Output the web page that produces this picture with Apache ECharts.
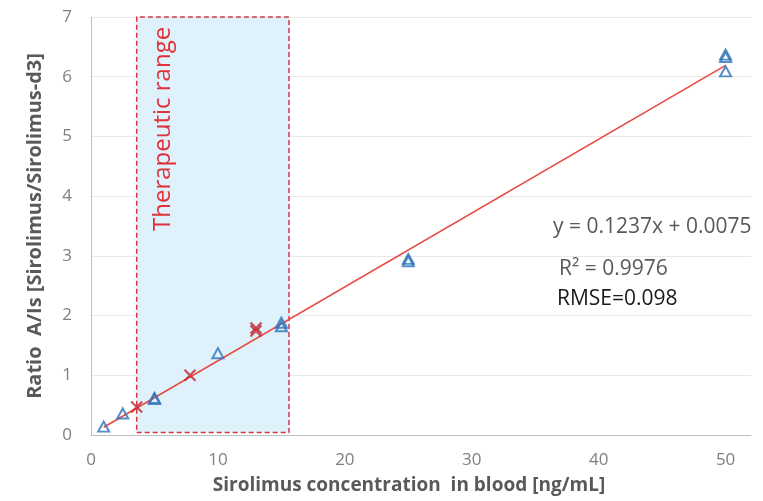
<!DOCTYPE html>
<html lang="en">
  <head>
    <meta charset="UTF-8" />
    <title>Sirolimus calibration</title>
    <script src="https://cdn.jsdelivr.net/npm/echarts@6/dist/echarts.min.js"></script>
    <style>
      html, body { margin: 0; padding: 0; background: #fff; }
    </style>
  </head>

  <body>
    <div id="main" style="width: 763px; height: 501px"></div>

    <script>
      // calibrators (blue triangles): [concentration, ratio]
      var calibrators = [
        [1, 0.14], [2.5, 0.36], [5, 0.6], [5, 0.62],
        [10, 1.37], [15, 1.82], [15, 1.88],
        [25, 2.91], [25, 2.95], [50, 6.09], [50, 6.33], [50, 6.37]
      ];
      // QC samples (red crosses)
      var qcSamples = [
        [3.6, 0.47], [7.8, 1.0], [13.0, 1.74], [13.0, 1.79]
      ];
      // linear fit endpoints
      var trendline = [[1, 0.13], [50, 6.19]];
      // therapeutic range box
      var therapeuticX = [3.6, 15.6];
      var therapeuticY = [0.04, 7.04];
      var xTicks = [0, 10, 20, 30, 40, 50];

      var fontFam = "'Open Sans', 'Noto Sans', sans-serif";
      var myChart = echarts.init(document.getElementById("main"));

      var option = {
        animation: false,
        textStyle: { fontFamily: fontFam },
        grid: { left: 91, right: 12, top: 17, bottom: 66 },
        xAxis: {
          type: "value",
          min: 0,
          max: 52,
          interval: 10,
          name: "Sirolimus concentration  in blood [ng/mL]",
          nameLocation: "middle",
          nameGap: 41,
          nameTextStyle: {
            fontSize: 19, fontWeight: "bold", color: "#595959", fontFamily: fontFam,
            padding: [0, 24, 0, 0]
          },
          axisLine: { lineStyle: { color: "#bfbfbf" } },
          axisTick: { show: false },
          splitLine: { show: false },
          axisLabel: {
            fontSize: 17, color: "#7f7f7f", margin: 17,
            formatter: function (v) { return xTicks.indexOf(v) >= 0 ? String(v) : ""; }
          }
        },
        yAxis: {
          type: "value",
          min: 0,
          max: 7,
          interval: 1,
          name: "Ratio  A/Is [Sirolimus/Sirolimus-d3]",
          nameLocation: "middle",
          nameGap: 46,
          nameTextStyle: { fontSize: 20, fontWeight: "bold", color: "#595959", fontFamily: fontFam },
          axisLine: { show: true, lineStyle: { color: "#bfbfbf" } },
          axisTick: { show: false },
          splitLine: { lineStyle: { color: "#e8e8e8" } },
          axisLabel: { fontSize: 17, color: "#7f7f7f", margin: 19 }
        },
        series: [
          {
            type: "line",
            data: [],
            silent: true,
            markArea: {
              silent: true,
              itemStyle: {
                color: "#dff1fa",
                borderColor: "#d9343f",
                borderWidth: 1.5,
                borderType: [5, 3]
              },
              data: [[
                { coord: [therapeuticX[0], therapeuticY[0]] },
                { coord: [therapeuticX[1], therapeuticY[1]] }
              ]]
            }
          },
          {
            type: "line",
            data: trendline,
            showSymbol: false,
            symbol: "none",
            lineStyle: { color: "#e8473f", width: 1.5 },
            z: 3
          },
          {
            type: "scatter",
            data: calibrators,
            symbol: "triangle",
            symbolSize: [11, 10],
            itemStyle: { color: "rgba(255,255,255,0)", borderColor: "#2e72b8", borderWidth: 2 },
            z: 4
          },
          {
            type: "scatter",
            data: qcSamples,
            symbol: "path://M0,0L10,10M10,0L0,10",
            symbolSize: 11,
            itemStyle: { color: "none", borderColor: "#c0282d", borderWidth: 2.2 },
            z: 5
          }
        ],
        graphic: [
          {
            type: "text",
            x: 163, y: 231,
            z: 100,
            rotation: Math.PI / 2,
            style: {
              text: "Therapeutic range",
              fill: "#e0303a",
              font: "24px " + fontFam,
              textAlign: "left",
              textVerticalAlign: "middle"
            }
          },
          {
            type: "text", x: 553, y: 227, z: 100,
            style: { text: "y = 0.1237x + 0.0075", fill: "#595959", font: "21px " + fontFam, textVerticalAlign: "middle" }
          },
          {
            type: "text", x: 559, y: 269, z: 100,
            style: { text: "R² = 0.9976", fill: "#595959", font: "21px " + fontFam, textVerticalAlign: "middle" }
          },
          {
            type: "text", x: 557, y: 299, z: 100,
            style: { text: "RMSE=0.098", fill: "#1a1a1a", font: "21px " + fontFam, textVerticalAlign: "middle" }
          }
        ]
      };
      myChart.setOption(option);
    </script>
  </body>
</html>
